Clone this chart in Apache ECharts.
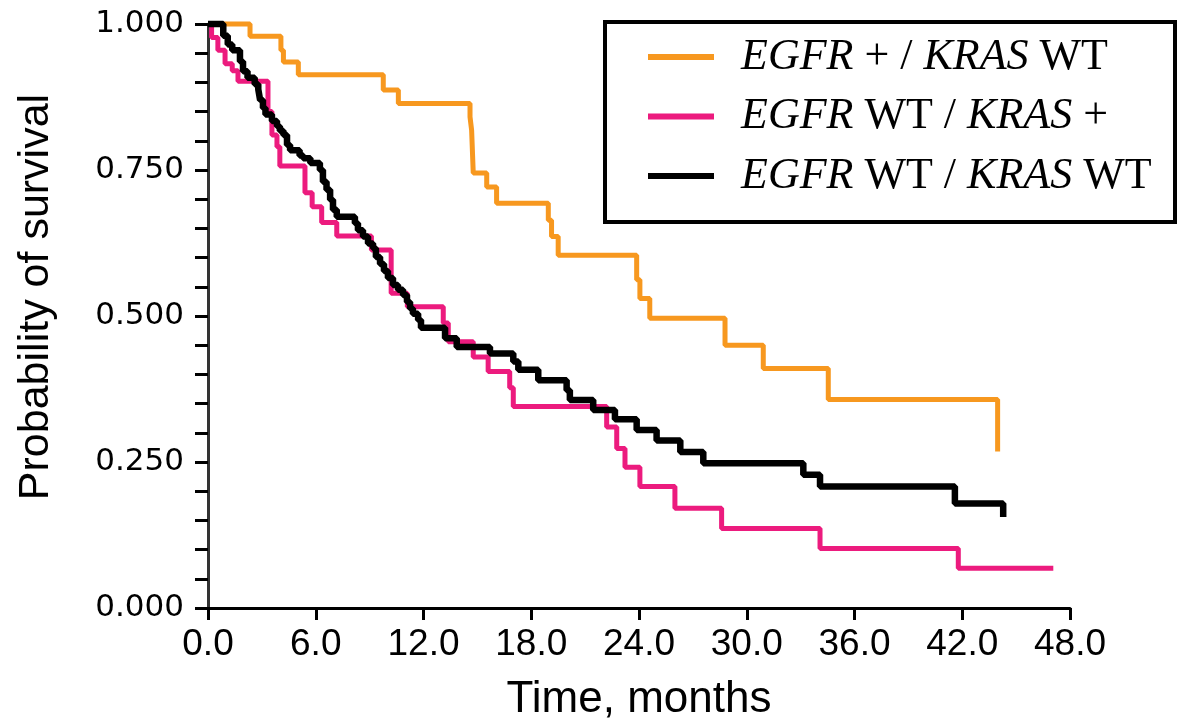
<!DOCTYPE html>
<html>
<head>
<meta charset="utf-8">
<script src="https://cdn.jsdelivr.net/npm/echarts@6/dist/echarts.min.js"></script>
<style>
html,body{margin:0;padding:0;background:#fff;}
#chart{width:1180px;height:718px;}
</style>
</head>
<body>
<div id="chart"></div>
<script>
// ---- data ----
var seriesNames = ['EGFR + / KRAS WT', 'EGFR WT / KRAS +', 'EGFR WT / KRAS WT'];

var egfrPosTimes = [0, 2.34, 4.06, 4.2, 5.03, 9.76, 10.6, 14.59, 14.68, 14.77, 15.52, 16.07, 18.95, 19.13, 19.5, 23.87, 24.05, 24.6, 28.79, 30.92, 34.54, 43.97];
var egfrPosSurv  = [1.0, 0.979, 0.955, 0.935, 0.913, 0.887, 0.864, 0.841, 0.818, 0.745, 0.721, 0.693, 0.664, 0.636, 0.604, 0.562, 0.530, 0.496, 0.450, 0.410, 0.357, 0.268];

var krasPosTimes = [0, 0.2, 0.55, 0.95, 1.35, 1.67, 3.34, 3.56, 3.84, 4.0, 5.4, 5.8, 6.33, 7.17, 9.1, 10.2, 11.1, 13.1, 13.38, 14.77, 15.6, 16.8, 17.0, 22.2, 22.76, 23.22, 24.05, 26.0, 28.6, 34.08, 41.78, 47.07];
var krasPosSurv  = [1.0, 0.977, 0.955, 0.932, 0.92, 0.902, 0.85, 0.81, 0.79, 0.757, 0.711, 0.687, 0.660, 0.637, 0.613, 0.539, 0.516, 0.488, 0.456, 0.430, 0.405, 0.377, 0.345, 0.310, 0.273, 0.241, 0.208, 0.171, 0.136, 0.102, 0.068, 0.068];

var wildTimes = [0, 0.85, 1.1, 1.35, 1.78, 1.95, 2.2, 2.6, 2.8, 2.9, 3.06, 3.2, 3.56, 3.84, 4.0, 4.2, 4.4, 4.57, 5.1, 5.3, 5.7, 6.23, 6.4, 6.6, 6.8, 6.96, 7.17, 8.18, 8.35, 8.63, 8.91, 9.19, 9.35, 9.58, 9.8, 10.02, 10.3, 10.58, 10.86, 11.08, 11.25, 11.41, 11.7, 11.86, 13.2, 13.85, 15.7, 17.0, 17.28, 18.39, 19.97, 20.15, 21.45, 22.66, 23.87, 24.98, 26.3, 27.58, 33.15, 34.08, 41.59, 44.28];
var wildSurv  = [1.0, 0.98, 0.965, 0.955, 0.936, 0.919, 0.908, 0.897, 0.888, 0.870, 0.856, 0.845, 0.834, 0.825, 0.817, 0.81, 0.793, 0.784, 0.775, 0.77, 0.762, 0.75, 0.73, 0.716, 0.699, 0.682, 0.670, 0.659, 0.647, 0.636, 0.624, 0.616, 0.601, 0.589, 0.577, 0.565, 0.553, 0.545, 0.536, 0.524, 0.513, 0.504, 0.493, 0.480, 0.462, 0.447, 0.436, 0.422, 0.408, 0.390, 0.373, 0.356, 0.339, 0.323, 0.305, 0.287, 0.267, 0.248, 0.228, 0.208, 0.179, 0.156];

var xTickValues = [0, 6, 12, 18, 24, 30, 36, 42, 48];
var yLabelValues = [0, 0.25, 0.5, 0.75, 1.0];

function pairs(t, s) { return t.map(function (v, i) { return [v, s[i]]; }); }

var chart = echarts.init(document.getElementById('chart'), null, {renderer: 'canvas'});

var legendFmt = function (name) {
  return '{sp|}' + name.replace(/(EGFR|KRAS)/g, '{i|$1}');
};

chart.setOption({
  animation: false,
  backgroundColor: '#fff',
  grid: {left: 208, right: 110, top: 24, bottom: 110, containLabel: false, outerBoundsMode: 'none'},
  xAxis: {
    type: 'value', min: 0, max: 48, interval: 6,
    name: 'Time, months', nameLocation: 'middle', nameGap: 70,
    nameTextStyle: {fontFamily: 'Liberation Sans', fontSize: 44, color: '#000'},
    axisLine: {show: true, lineStyle: {color: '#000', width: 3}},
    axisTick: {show: true, inside: false, length: 12, lineStyle: {color: '#000', width: 3}},
    axisLabel: {
      margin: 18, fontFamily: 'Liberation Sans', fontSize: 37, color: '#000',
      formatter: function (v) { return xTickValues.indexOf(v) >= 0 ? v.toFixed(1) : ''; }
    },
    splitLine: {show: false}
  },
  yAxis: {
    type: 'value', min: 0, max: 1, interval: 0.05,
    name: 'Probability of survival', nameLocation: 'middle', nameGap: 150, nameRotate: 90,
    nameTextStyle: {fontFamily: 'Liberation Sans', fontSize: 43, color: '#000', padding: [0, 0, 0, 38]},
    axisLine: {show: true, lineStyle: {color: '#333', width: 3}},
    axisTick: {show: true, inside: false, length: 13, lineStyle: {color: '#000', width: 3}},
    axisLabel: {
      margin: 24, fontFamily: 'DejaVu Sans', fontSize: 31, color: '#000',
      formatter: function (v) {
        for (var i = 0; i < yLabelValues.length; i++) {
          if (Math.abs(v - yLabelValues[i]) < 1e-6) return v.toFixed(3);
        }
        return '';
      }
    },
    splitLine: {show: false}
  },
  legend: {
    orient: 'vertical', left: 648, top: 33, itemGap: 11.5, padding: 0,
    itemWidth: 66, itemHeight: 6, icon: 'rect',
    selectedMode: false,
    data: seriesNames,
    formatter: legendFmt,
    textStyle: {
      fontFamily: 'Liberation Serif', fontSize: 44, color: '#000', lineHeight: 48,
      rich: {
        sp: {width: 22},
        i: {fontFamily: 'Liberation Serif', fontStyle: 'italic', fontSize: 44, color: '#000', lineHeight: 48}
      }
    }
  },
  graphic: [{
    type: 'rect', z: 100,
    shape: {x: 605, y: 22, width: 570, height: 200},
    style: {fill: null, stroke: '#000', lineWidth: 4}
  }],
  series: [
    {name: seriesNames[0], type: 'line', step: 'end', showSymbol: false, clip: false,
     data: pairs(egfrPosTimes, egfrPosSurv), color: '#F7981F',
     lineStyle: {color: '#F7981F', width: 5}},
    {name: seriesNames[1], type: 'line', step: 'end', showSymbol: false, clip: false,
     data: pairs(krasPosTimes, krasPosSurv), color: '#EC1B7E',
     lineStyle: {color: '#EC1B7E', width: 5}},
    {name: seriesNames[2], type: 'line', step: 'end', showSymbol: false, clip: false,
     data: pairs(wildTimes, wildSurv), color: '#000',
     lineStyle: {color: '#000', width: 6.5}}
  ]
});
</script>
</body>
</html>
